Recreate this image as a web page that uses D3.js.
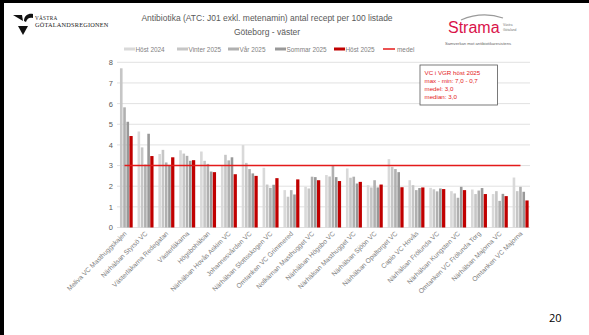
<!DOCTYPE html>
<html><head><meta charset="utf-8">
<script src="https://cdn.jsdelivr.net/npm/d3@7"></script>
<style>
html,body{margin:0;padding:0;background:#fff;}
svg{display:block;font-family:"Liberation Sans","DejaVu Sans",sans-serif;}
</style></head>
<body>
<svg id="c" width="589" height="335"></svg>
<script>
const categories = ["Meliva VC Masthuggskajen","Närhälsan Styrsö VC","Västerläkarna Redegatan","Västerläkarna","Högsbohälsan","Närhälsan Hovås Askim VC","Johannesvården VC","Närhälsan Slottsskogen VC","Omtanken VC Grimmered","Nolkärnan Masthugget VC","Närhälsan Högsbo VC","Närhälsan Masthugget VC","Närhälsan Sjöön VC","Närhälsan Opaltorget VC","Capio VC Hovås","Närhälsan Frölunda VC","Närhälsan Kungsten VC","Omtanken VC Frölunda Torg","Närhälsan Majorna VC","Omtanken VC Majorna"];
const host2024   = [null,4.65,3.56,3.74,3.68,3.00,3.99,2.89,1.81,1.97,2.54,2.86,2.05,3.31,2.29,1.92,1.76,1.84,1.62,2.42];
const vinter2025 = [7.71,3.88,3.76,3.58,3.23,3.52,3.13,2.08,1.49,1.89,2.47,2.41,1.94,2.94,2.05,1.85,1.65,1.62,1.76,1.76];
const var2025    = [5.82,3.05,3.15,3.47,3.08,3.25,2.83,1.92,1.81,2.46,2.99,2.46,2.29,2.83,1.81,1.75,1.44,1.79,1.29,1.97];
const sommar2025 = [5.12,4.54,3.03,3.23,2.71,3.40,2.62,2.07,1.60,2.44,2.44,2.13,1.94,2.68,1.91,1.89,1.97,1.91,1.63,1.73];
const host2025   = [4.43,3.46,3.40,3.26,2.68,2.58,2.50,2.39,2.33,2.29,2.25,2.21,2.08,1.95,1.94,1.86,1.81,1.62,1.52,1.31];
const medel = 3.0;
const seriesNames = ["Höst 2024","Vinter 2025","Vår 2025","Sommar 2025","Höst 2025"];
const seriesColors = ["#d9d9d9","#c6c6c6","#b0b0b0","#999999","#c00000"];
const yTicks = [0,1,2,3,4,5,6,7,8];
const titleLines = ["Antibiotika (ATC: J01 exkl. metenamin) antal recept per 100 listade","Göteborg - väster"];
const infoLines = ["VC i VGR höst 2025","max - min: 7,0 - 0,7","medel: 3,0","median: 3,0"];

const seriesData = [host2024, vinter2025, var2025, sommar2025, host2025];
const svg = d3.select("#c");

// frame
svg.append("rect").attr("x",0).attr("y",0).attr("width",589).attr("height",3).attr("fill","#000");
svg.append("rect").attr("x",0).attr("y",0).attr("width",4).attr("height",335).attr("fill","#000");

const x0 = d3.scaleBand().domain(categories).range([114.1,530.9]).paddingInner(0.25).paddingOuter(0.125);
const x1 = d3.scaleBand().domain(seriesNames).range([0,x0.bandwidth()]).paddingInner(0.2);
const y = d3.scaleLinear().domain([0,8]).range([227.5,62.3]);

// grid
svg.append("g").selectAll("line").data(yTicks).join("line")
  .attr("x1",117).attr("x2",530).attr("y1",d=>y(d)).attr("y2",d=>y(d))
  .attr("stroke","#d9d9d9").attr("stroke-width",0.8);
// y labels
const yAxis = d3.axisLeft(y).tickValues(yTicks).tickSize(0).tickPadding(0).tickFormat(d3.format("d"));
const ga = svg.append("g").attr("transform","translate(113,0)").call(yAxis);
ga.select(".domain").remove();
ga.selectAll("text").attr("font-size",7.5).attr("fill","#595959").attr("font-family","Liberation Sans, sans-serif");

// bars
const rows = categories.map((c,i)=>({c, vals: seriesData.map((s,k)=>({k, name:seriesNames[k], v:s[i]}))}));
const g = svg.append("g").selectAll("g").data(rows).join("g").attr("transform",d=>`translate(${x0(d.c)},0)`);
g.selectAll("rect").data(d=>d.vals.filter(e=>e.v!=null)).join("rect")
  .attr("x",d=> d.k===4 ? x1(d.name)-0.3 : x1(d.name))
  .attr("width",d=> d.k===4 ? x1.step() : x1.bandwidth())
  .attr("y",d=>y(d.v)).attr("height",d=>y(0)-y(d.v))
  .attr("fill",d=>seriesColors[d.k]);

// medel line
const cx = c => x0(c)+x0.bandwidth()/2;
svg.append("line").attr("x1",cx(categories[0])).attr("x2",cx(categories[categories.length-1]))
  .attr("y1",y(medel)).attr("y2",y(medel)).attr("stroke","#e41a1a").attr("stroke-width",1.6);

// x labels
const xAxis = d3.axisBottom(x0).tickSize(0).tickPadding(0);
const gx = svg.append("g").call(xAxis);
gx.select(".domain").remove();
gx.selectAll(".tick").attr("transform",d=>`translate(${cx(d)+2.5},234)`);
gx.selectAll("text").attr("transform","rotate(-45)").attr("text-anchor","end").attr("dy",0).attr("y",0).attr("x",0)
  .attr("font-size",6.7).attr("fill","#808080").attr("font-family","Liberation Sans, sans-serif");

// title
svg.append("g").selectAll("text").data(titleLines).join("text")
  .attr("x",267).attr("y",(d,i)=>21+i*14).attr("text-anchor","middle")
  .attr("font-size",8.5).attr("fill","#595959").text(d=>d);

// legend
const leg = [
  {t:seriesNames[0], c:seriesColors[0], x:124},
  {t:seriesNames[1], c:seriesColors[1], x:177},
  {t:seriesNames[2], c:seriesColors[2], x:228},
  {t:seriesNames[3], c:seriesColors[3], x:275},
  {t:seriesNames[4], c:seriesColors[4], x:334},
];
const lg = svg.append("g");
leg.forEach(l=>{
  lg.append("rect").attr("x",l.x).attr("y",47.5).attr("width",11).attr("height",3).attr("fill",l.c);
  lg.append("text").attr("x",l.x+11.5).attr("y",51.5).attr("font-size",6.4).attr("fill","#7f7f7f").text(l.t);
});
lg.append("line").attr("x1",383).attr("x2",395).attr("y1",49).attr("y2",49).attr("stroke","#e41a1a").attr("stroke-width",1.5);
lg.append("text").attr("x",397).attr("y",51.5).attr("font-size",6.4).attr("fill","#7f7f7f").text("medel");

// info box
svg.append("rect").attr("x",420).attr("y",65).attr("width",77.5).attr("height",40).attr("fill","#fff").attr("stroke","#595959").attr("stroke-width",0.8);
svg.append("g").selectAll("text").data(infoLines).join("text")
  .attr("x",424.5).attr("y",(d,i)=>74.5+i*8.3).attr("font-size",6.2).attr("fill","#e41a1a").text(d=>d);

// VGR logo
const lo = svg.append("g");
lo.append("path").attr("d","M13,15 L22,15 L23,21 Z").attr("fill","#111");
lo.append("path").attr("d","M24,21 C24,15 29,13 33,14 L33,18 C30,17 27,18 26,22 Z").attr("fill","#111");
lo.append("path").attr("d","M18,26 L28,26 L23,35 Z").attr("fill","#111");
lo.append("text").attr("x",35).attr("y",20).attr("font-size",5.2).attr("fill","#222").attr("font-family","Liberation Serif, serif").attr("letter-spacing",0.3).text("VÄSTRA");
lo.append("text").attr("x",35).attr("y",27).attr("font-size",6.3).attr("fill","#222").attr("font-family","Liberation Serif, serif").attr("letter-spacing",0.2).text("GÖTALANDSREGIONEN");

// Strama logo
const so = svg.append("g");
so.append("path").attr("d","M461,20 Q482,11 503,18").attr("fill","none").attr("stroke","#9a9a9a").attr("stroke-width",1.2);
so.append("text").attr("x",448).attr("y",33).attr("font-size",16).attr("fill","#d9134a").attr("font-family","Liberation Sans, sans-serif").text("Strama");
so.append("text").attr("x",503).attr("y",26).attr("font-size",3.3).attr("fill","#777").text("Västra");
so.append("text").attr("x",503).attr("y",30.5).attr("font-size",3.3).attr("fill","#777").text("Götaland");
so.append("text").attr("x",445).attr("y",44.5).attr("font-size",4.2).attr("fill","#666").text("Samverkan mot antibiotikaresistens");

// page number
svg.append("text").attr("x",549).attr("y",322).attr("font-size",11).attr("fill","#000").attr("font-family","Open Sans, sans-serif").text("20");
</script>
</body></html>
